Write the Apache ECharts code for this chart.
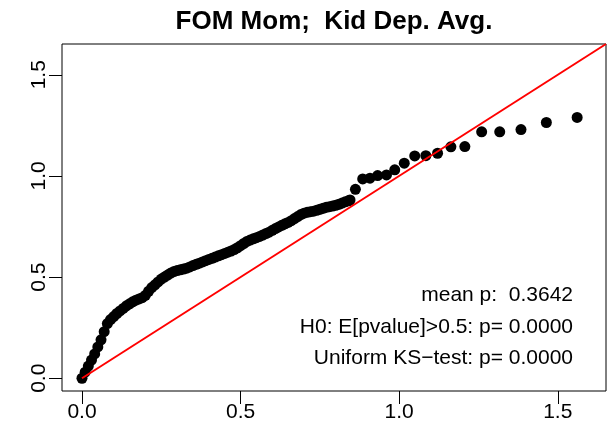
<!DOCTYPE html>
<html>
<head>
<meta charset="utf-8">
<script src="https://cdn.jsdelivr.net/npm/echarts@6/dist/echarts.min.js"></script>
<style>html,body{margin:0;padding:0;background:#fff;}#c{width:607px;height:447px;}</style>
</head>
<body>
<div id="c"></div>
<script>
const titleText = 'FOM Mom;  Kid Dep. Avg.';
const statLines = ['mean p:  0.3642', 'H0: E[pvalue]>0.5: p= 0.0000', 'Uniform KS\u2212test: p= 0.0000'];
const tickValues = [0, 0.5, 1.0, 1.5];
const expectedX = [
  0.00,0.01,0.02,0.03,0.04,0.05,0.06,0.07,0.08,0.09,
  0.10,0.11,0.12,0.13,0.14,0.15,0.16,0.17,0.18,0.19,
  0.20,0.21,0.22,0.23,0.24,0.25,0.26,0.27,0.28,0.29,
  0.30,0.31,0.32,0.33,0.34,0.35,0.36,0.37,0.38,0.39,
  0.40,0.41,0.42,0.43,0.44,0.45,0.46,0.47,0.48,0.49,
  0.50,0.51,0.52,0.53,0.54,0.55,0.56,0.57,0.58,0.59,
  0.60,0.61,0.62,0.63,0.64,0.65,0.66,0.67,0.68,0.69,
  0.70,0.71,0.72,0.73,0.74,0.75,0.76,0.77,0.78,0.79,
  0.80,0.81,0.82,0.83,0.84,0.845,
  0.862,0.885,0.908,0.932,0.960,0.986,1.016,1.049,1.084,1.121,
  1.163,1.207,1.260,1.317,1.384,1.464,1.561
];
const observedY = [
  0.000,0.030,0.060,0.090,0.120,0.155,0.190,0.230,0.270,0.290,
  0.305,0.320,0.333,0.345,0.358,0.368,0.378,0.386,0.392,0.398,
  0.410,0.430,0.448,0.462,0.476,0.490,0.500,0.510,0.520,0.527,
  0.532,0.536,0.540,0.544,0.550,0.557,0.563,0.569,0.575,0.581,
  0.587,0.593,0.599,0.605,0.611,0.617,0.623,0.629,0.636,0.645,
  0.655,0.666,0.676,0.683,0.689,0.695,0.701,0.708,0.715,0.722,
  0.731,0.740,0.748,0.756,0.763,0.770,0.779,0.789,0.799,0.809,
  0.816,0.820,0.823,0.826,0.830,0.835,0.840,0.845,0.848,0.851,
  0.855,0.860,0.866,0.872,0.877,0.881,
  0.934,0.985,0.989,1.002,1.005,1.030,1.063,1.099,1.100,1.112,
  1.144,1.145,1.218,1.218,1.229,1.264,1.289
];
const axisMin = -0.063, axisMax = 1.652;
const refLine = [[0, 0], [axisMax, axisMax]];

const pts = expectedX.map((x, i) => [x, observedY[i]]);
const chart = echarts.init(document.getElementById('c'), null, {renderer: 'canvas'});
const FONT = '"Liberation Sans", Arial, Helvetica, sans-serif';
const axisCommon = {
  type: 'value', min: axisMin, max: axisMax,
  splitLine: {show: false},
  axisLine: {show: false, onZero: false},
  axisTick: {show: true, customValues: tickValues, length: 13, inside: false, lineStyle: {color: '#000', width: 1}},
};
chart.setOption({
  animation: false,
  backgroundColor: '#fff',
  grid: {left: 62, right: 1, top: 44, bottom: 56, show: true, borderColor: '#000', borderWidth: 1, backgroundColor: 'transparent'},
  xAxis: Object.assign({}, axisCommon, {
    axisLabel: {customValues: tickValues, formatter: v => v.toFixed(1), fontSize: 21, color: '#000', fontFamily: FONT, margin: 11}
  }),
  yAxis: Object.assign({}, axisCommon, {
    axisLabel: {customValues: tickValues, formatter: v => v.toFixed(1), fontSize: 21, color: '#000', fontFamily: FONT, margin: 12, rotate: 90}
  }),
  graphic: [
    {type: 'text', x: 334, y: 22, style: {text: titleText, font: 'bold 26px ' + FONT, fill: '#000', textAlign: 'center', textVerticalAlign: 'middle'}},
    {type: 'text', x: 573, y: 295, style: {text: statLines[0], font: '21px ' + FONT, fill: '#000', textAlign: 'right', textVerticalAlign: 'middle'}},
    {type: 'text', x: 573, y: 327, style: {text: statLines[1], font: '21px ' + FONT, fill: '#000', textAlign: 'right', textVerticalAlign: 'middle'}},
    {type: 'text', x: 573, y: 358, style: {text: statLines[2], font: '21px ' + FONT, fill: '#000', textAlign: 'right', textVerticalAlign: 'middle'}}
  ],
  series: [
    {type: 'scatter', data: pts, symbol: 'circle', symbolSize: 11, itemStyle: {color: '#000', opacity: 1}, z: 2},
    {type: 'line', data: refLine, symbol: 'none', lineStyle: {color: '#ff0000', width: 2}, clip: true, z: 3}
  ]
});
</script>
</body>
</html>
